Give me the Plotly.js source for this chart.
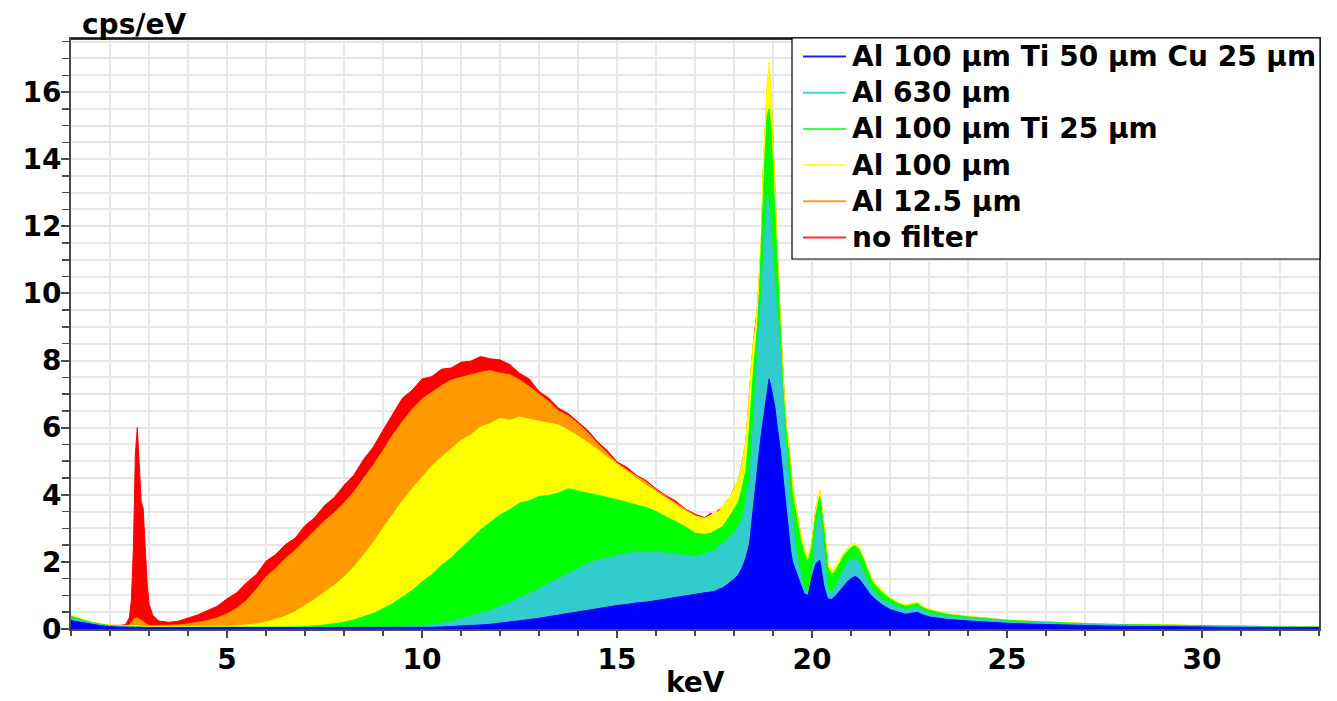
<!DOCTYPE html>
<html>
<head>
<meta charset="utf-8">
<script src="https://cdn.plot.ly/plotly-3.0.1.min.js"></script>
<style>html,body{margin:0;padding:0;background:#fff;}#chart{width:1337px;height:701px;}</style>
</head>
<body>
<div id="chart"></div>
<script>
// Energy axis (keV), shared by all spectra
const energy = [
  1.0, 1.25, 1.5, 1.75, 2.0, 2.25, 2.4,
  2.5, 2.55, 2.6, 2.65, 2.7, 2.75, 2.8, 2.85, 2.9, 2.95, 3.0, 3.1,
  3.25, 3.5, 3.75, 4.0, 4.25, 4.5, 4.75, 5.0, 5.25, 5.5, 5.75, 6.0, 6.25, 6.5, 6.75, 7.0,
  7.25, 7.5, 7.75, 8.0, 8.25, 8.5, 8.75, 9.0, 9.25, 9.5, 9.75, 10.0, 10.25, 10.5, 10.75, 11.0,
  11.25, 11.5, 11.75, 12.0, 12.25, 12.5, 12.75, 13.0, 13.25, 13.5, 13.75, 14.0, 14.25, 14.5, 14.75, 15.0,
  15.25, 15.5, 15.75, 16.0, 16.25, 16.5, 16.75, 17.0, 17.25,
  17.4, 17.5, 17.6, 17.7, 17.8, 17.9, 18.0, 18.1, 18.2, 18.3,
  18.35, 18.4, 18.45, 18.5, 18.55, 18.6, 18.65, 18.7, 18.75, 18.8,
  18.85, 18.9, 18.95, 19.0, 19.05, 19.1, 19.15, 19.2, 19.25, 19.3,
  19.35, 19.4, 19.45, 19.5, 19.6, 19.7, 19.8, 19.9, 20.0, 20.1,
  20.2, 20.3, 20.4, 20.5, 20.6, 20.7, 20.8, 20.9, 21.0, 21.1,
  21.2, 21.3, 21.4, 21.5, 21.6, 21.8, 22.0, 22.2, 22.4, 22.6,
  22.7, 22.8, 23.0, 23.25, 23.5,
  24, 24.5, 25, 25.5, 26, 26.5, 27, 27.5, 28, 28.5, 29, 29.5, 30, 30.5, 31, 31.5, 32, 32.5, 33
];

// no filter (red)
const noFilter = [
  0.30, 0.22, 0.16, 0.12, 0.10, 0.11, 0.13,
  0.35, 0.9, 2.4, 5.2, 6.0, 5.0, 3.8, 3.6, 2.4, 1.4, 0.75, 0.4,
  0.24, 0.20, 0.23, 0.33, 0.42, 0.55, 0.68, 0.90, 1.08, 1.38, 1.62, 2.02, 2.22, 2.52, 2.71, 3.08,
  3.32, 3.68, 3.92, 4.28, 4.58, 5.05, 5.42, 5.92, 6.38, 6.88, 7.12, 7.45, 7.52, 7.74, 7.78, 7.95,
  7.98, 8.12, 8.05, 8.02, 7.88, 7.62, 7.45, 7.08, 6.88, 6.58, 6.42, 6.18, 5.92, 5.58, 5.32, 4.98,
  4.82, 4.58, 4.42, 4.18, 3.98, 3.82, 3.58, 3.42, 3.32,
  3.45, 3.40, 3.55, 3.62, 3.80, 3.92, 4.18, 4.40, 4.88, 5.55,
  6.25, 7.15, 7.90, 8.55, 8.98, 9.55, 10.5, 11.5, 13.6, 14.9,
  16.0, 16.6, 15.8, 14.5, 12.9, 11.5, 10.1, 8.95, 7.55, 6.65,
  5.95, 5.55, 4.85, 4.25, 3.58, 2.88, 2.38, 2.12, 2.58, 3.58,
  4.10, 3.15, 1.98, 1.72, 1.83, 2.02, 2.22, 2.38, 2.48, 2.52,
  2.42, 2.18, 1.88, 1.58, 1.38, 1.12, 0.93, 0.78, 0.70, 0.76,
  0.78, 0.68, 0.58, 0.50, 0.44,
  0.37, 0.31, 0.26, 0.23, 0.20, 0.18, 0.16, 0.14, 0.13, 0.12, 0.11, 0.10, 0.09, 0.08, 0.07, 0.07, 0.06, 0.06, 0.05
];

// Al 12.5 µm (orange)
const al12 = [
  0.36, 0.27, 0.19, 0.14, 0.11, 0.10, 0.10,
  0.12, 0.2, 0.28, 0.32, 0.33, 0.3, 0.26, 0.2, 0.16, 0.12, 0.1, 0.1,
  0.10, 0.10, 0.12, 0.15, 0.19, 0.25, 0.33, 0.45, 0.62, 0.85, 1.18, 1.55, 1.80, 2.10, 2.35, 2.65,
  2.92, 3.22, 3.46, 3.75, 4.08, 4.48, 4.88, 5.32, 5.78, 6.18, 6.55, 6.85, 7.05, 7.25, 7.42, 7.50,
  7.58, 7.65, 7.70, 7.62, 7.58, 7.42, 7.22, 7.00, 6.78, 6.50, 6.35, 6.12, 5.85, 5.52, 5.25, 4.95,
  4.75, 4.55, 4.38, 4.15, 3.95, 3.76, 3.55, 3.38, 3.28,
  3.38, 3.42, 3.48, 3.60, 3.75, 3.92, 4.12, 4.42, 4.82, 5.55,
  6.25, 7.15, 7.90, 8.55, 8.92, 9.55, 10.5, 11.5, 13.7, 14.9,
  16.1, 16.7, 15.9, 14.5, 12.9, 11.5, 10.1, 8.95, 7.55, 6.65,
  5.95, 5.55, 4.85, 4.25, 3.56, 2.86, 2.36, 2.12, 2.56, 3.56,
  4.10, 3.15, 1.97, 1.72, 1.82, 2.02, 2.22, 2.37, 2.47, 2.52,
  2.42, 2.17, 1.87, 1.57, 1.37, 1.12, 0.92, 0.78, 0.70, 0.76,
  0.78, 0.68, 0.58, 0.50, 0.44,
  0.37, 0.31, 0.26, 0.23, 0.20, 0.18, 0.16, 0.14, 0.13, 0.12, 0.11, 0.10, 0.09, 0.08, 0.07, 0.07, 0.06, 0.06, 0.05
];

// Al 100 µm (yellow)
const al100 = [
  0.43, 0.33, 0.22, 0.16, 0.12, 0.10, 0.09,
  0.08, 0.08, 0.09, 0.1, 0.1, 0.09, 0.08, 0.08, 0.07, 0.07, 0.07, 0.07,
  0.07, 0.06, 0.06, 0.06, 0.06, 0.06, 0.07, 0.08, 0.09, 0.11, 0.15, 0.20, 0.28, 0.38, 0.52, 0.70,
  0.88, 1.10, 1.30, 1.55, 1.85, 2.20, 2.58, 3.00, 3.42, 3.82, 4.18, 4.52, 4.85, 5.12, 5.38, 5.62,
  5.78, 6.02, 6.12, 6.28, 6.22, 6.32, 6.25, 6.20, 6.15, 6.08, 5.92, 5.75, 5.55, 5.35, 5.12, 4.92,
  4.70, 4.48, 4.28, 4.08, 3.90, 3.70, 3.52, 3.36, 3.30,
  3.40, 3.45, 3.50, 3.65, 3.78, 3.95, 4.15, 4.45, 4.85, 5.60,
  6.30, 7.20, 7.95, 8.60, 8.95, 9.60, 10.6, 11.6, 13.8, 15.0,
  16.2, 16.9, 16.0, 14.6, 13.0, 11.6, 10.2, 9.0, 7.6, 6.7,
  6.0, 5.6, 4.9, 4.3, 3.6, 2.9, 2.4, 2.15, 2.6, 3.6,
  4.15, 3.2, 2.0, 1.75, 1.85, 2.05, 2.25, 2.4, 2.5, 2.55,
  2.45, 2.2, 1.9, 1.6, 1.4, 1.15, 0.95, 0.8, 0.72, 0.78,
  0.8, 0.7, 0.6, 0.52, 0.46,
  0.38, 0.32, 0.27, 0.24, 0.21, 0.19, 0.17, 0.15, 0.14, 0.13, 0.12, 0.11, 0.10, 0.09, 0.08, 0.08, 0.07, 0.07, 0.06
];

// Al 100 µm Ti 25 µm (green)
const al100ti25 = [
  0.38, 0.29, 0.20, 0.15, 0.10, 0.08, 0.07,
  0.06, 0.06, 0.06, 0.07, 0.07, 0.06, 0.06, 0.06, 0.05, 0.05, 0.05, 0.05,
  0.05, 0.05, 0.04, 0.04, 0.04, 0.04, 0.04, 0.04, 0.04, 0.04, 0.04, 0.05, 0.05, 0.05, 0.06, 0.07,
  0.09, 0.12, 0.16, 0.20, 0.27, 0.36, 0.46, 0.60, 0.76, 0.95, 1.15, 1.40, 1.62, 1.90, 2.12, 2.40,
  2.68, 2.95, 3.18, 3.40, 3.55, 3.75, 3.82, 3.95, 3.98, 4.05, 4.18, 4.12, 4.05, 3.98, 3.92, 3.85,
  3.78, 3.70, 3.62, 3.50, 3.35, 3.20, 3.05, 2.85, 2.82,
  2.85, 2.92, 2.98, 3.05, 3.20, 3.38, 3.55, 3.75, 4.15, 4.70,
  5.30, 6.00, 6.90, 7.70, 8.40, 9.00, 10.0, 11.2, 12.8, 14.2,
  15.3, 15.5, 14.8, 13.6, 12.3, 11.0, 9.8, 8.6, 7.3, 6.4,
  5.7, 5.3, 4.6, 4.0, 3.35, 2.7, 2.25, 2.0, 2.45, 3.4,
  3.95, 3.0, 1.85, 1.62, 1.72, 1.95, 2.15, 2.3, 2.42, 2.48,
  2.38, 2.12, 1.82, 1.52, 1.32, 1.08, 0.9, 0.76, 0.68, 0.74,
  0.76, 0.66, 0.56, 0.49, 0.43,
  0.36, 0.30, 0.26, 0.23, 0.20, 0.18, 0.16, 0.14, 0.13, 0.12, 0.11, 0.10, 0.09, 0.08, 0.08, 0.07, 0.07, 0.06, 0.06
];

// Al 630 µm (cyan)
const al630 = [
  0.33, 0.26, 0.18, 0.13, 0.09, 0.07, 0.06,
  0.05, 0.05, 0.05, 0.05, 0.06, 0.05, 0.05, 0.05, 0.05, 0.04, 0.04, 0.04,
  0.04, 0.04, 0.03, 0.03, 0.03, 0.03, 0.03, 0.03, 0.03, 0.03, 0.03, 0.03, 0.03, 0.03, 0.03, 0.03,
  0.03, 0.03, 0.03, 0.04, 0.04, 0.04, 0.04, 0.05, 0.05, 0.06, 0.07, 0.09, 0.12, 0.16, 0.22, 0.30,
  0.38, 0.46, 0.55, 0.66, 0.78, 0.92, 1.05, 1.20, 1.35, 1.50, 1.66, 1.80, 1.95, 2.05, 2.12, 2.20,
  2.25, 2.30, 2.28, 2.30, 2.26, 2.22, 2.20, 2.15, 2.25,
  2.28, 2.35, 2.45, 2.55, 2.65, 2.75, 2.87, 3.05, 3.25, 3.75,
  4.20, 4.45, 5.20, 6.20, 7.10, 8.20, 9.10, 9.90, 11.0, 12.0,
  12.9, 12.6, 11.8, 10.9, 10.2, 9.5, 8.9, 7.9, 6.7, 5.9,
  5.2, 4.4, 3.7, 3.2, 2.3, 1.7, 1.2, 1.1, 1.6, 2.9,
  3.5, 2.4, 1.2, 1.08, 1.25, 1.5, 1.75, 1.95, 2.05, 2.1,
  2.0, 1.75, 1.5, 1.25, 1.08, 0.88, 0.75, 0.64, 0.58, 0.62,
  0.64, 0.56, 0.48, 0.42, 0.37,
  0.32, 0.27, 0.23, 0.20, 0.18, 0.16, 0.14, 0.13, 0.12, 0.11, 0.10, 0.09, 0.08, 0.08, 0.07, 0.07, 0.06, 0.06, 0.05
];

// Al 100 µm Ti 50 µm Cu 25 µm (blue)
const al100ti50cu25 = [
  0.25, 0.20, 0.14, 0.10, 0.07, 0.05, 0.05,
  0.04, 0.04, 0.04, 0.04, 0.05, 0.04, 0.04, 0.04, 0.04, 0.04, 0.04, 0.04,
  0.04, 0.04, 0.04, 0.04, 0.04, 0.03, 0.03, 0.03, 0.03, 0.03, 0.03, 0.03, 0.03, 0.03, 0.03, 0.03,
  0.03, 0.03, 0.03, 0.03, 0.03, 0.03, 0.03, 0.03, 0.03, 0.04, 0.04, 0.05, 0.05, 0.06, 0.07, 0.08,
  0.10, 0.12, 0.14, 0.17, 0.20, 0.24, 0.28, 0.32, 0.37, 0.42, 0.47, 0.52, 0.57, 0.62, 0.66, 0.70,
  0.73, 0.78, 0.80, 0.85, 0.88, 0.93, 0.98, 1.03, 1.08,
  1.10, 1.12, 1.18, 1.22, 1.30, 1.38, 1.48, 1.60, 1.80, 2.10,
  2.35, 2.55, 3.10, 3.70, 4.20, 4.80, 5.30, 5.80, 6.20, 6.70,
  7.10, 7.45, 7.20, 6.90, 6.60, 6.10, 5.70, 5.20, 4.60, 4.00,
  3.40, 2.80, 2.35, 2.00, 1.65, 1.35, 1.05, 1.00, 1.55, 1.95,
  2.05, 1.30, 0.90, 0.88, 0.98, 1.10, 1.25, 1.40, 1.50, 1.57,
  1.50, 1.35, 1.18, 1.02, 0.90, 0.72, 0.58, 0.50, 0.44, 0.48,
  0.50, 0.44, 0.36, 0.32, 0.28,
  0.24, 0.20, 0.17, 0.15, 0.13, 0.12, 0.10, 0.09, 0.08, 0.08, 0.07, 0.06, 0.06, 0.05, 0.05, 0.05, 0.04, 0.04, 0.04
];

const seriesNames = ['no filter', 'Al 12.5 µm', 'Al 100 µm', 'Al 100 µm Ti 25 µm', 'Al 630 µm', 'Al 100 µm Ti 50 µm Cu 25 µm'];
const seriesValues = [noFilter, al12, al100, al100ti25, al630, al100ti50cu25];
const fillColors = ['#ff0000', '#ff9900', '#ffff00', '#00ff00', '#33cccc', '#0000ff'];
const legendColors = ['#ff3030', '#ff9a30', '#ffff40', '#40ff40', '#40d0d0', '#2020ff'];

seriesValues.forEach((v, i) => {
  if (v.length !== energy.length) throw new Error('length mismatch ' + seriesNames[i] + ': ' + v.length + ' vs ' + energy.length);
});

const traces = [];
// filled spectra, back (no filter) to front (heaviest filter)
seriesValues.forEach((vals, i) => {
  traces.push({
    type: 'scatter', mode: 'lines', x: energy, y: vals,
    fill: 'tozeroy', fillcolor: fillColors[i],
    line: {color: fillColors[i], width: 1},
    showlegend: false, hoverinfo: 'skip', name: seriesNames[i]
  });
});

// plot-area geometry (pixels) used to place the hand-built legend box
const M = {l: 71, r: 18, t: 39, b: 72};
const W = 1337, H = 701;
const pw = W - M.l - M.r, ph = H - M.t - M.b;
const px = v => (v - M.l) / pw;
const py = v => (H - M.b - v) / ph;

const FONT = {family: 'DejaVu Sans, Verdana, sans-serif', size: 28, color: '#000000', weight: 'bold'};
const shapes = [];
const annotations = [];
// top frame line (black)
shapes.push({type: 'line', xref: 'paper', yref: 'paper', x0: 0, x1: 1, y0: 1, y1: 1, line: {color: '#000', width: 1.5}});
// legend box
const legL = 792, legR = 1320, legT = 38, legB = 259, rowH = 36.2, row0 = 56.5;
shapes.push({type: 'rect', xref: 'paper', yref: 'paper', x0: px(legL), x1: px(legR), y0: py(legB), y1: py(legT),
  fillcolor: '#ffffff', line: {color: '#000000', width: 1.2}, layer: 'above'});
for (let k = 0; k < seriesNames.length; k++) {
  const i = seriesNames.length - 1 - k; // top entry = heaviest filter
  const yc = row0 + k * rowH;
  shapes.push({type: 'line', xref: 'paper', yref: 'paper', x0: px(803), x1: px(846), y0: py(yc), y1: py(yc),
    line: {color: legendColors[i], width: 2}, layer: 'above'});
  annotations.push({text: seriesNames[i], xref: 'paper', yref: 'paper', x: px(851), y: py(yc),
    xanchor: 'left', yanchor: 'middle', showarrow: false, borderpad: 0, font: FONT});
}
annotations.push({
  text: 'cps/eV', xref: 'paper', yref: 'paper', x: 0.007, y: 1, xanchor: 'left', yanchor: 'bottom',
  showarrow: false, yshift: -4, font: FONT
});
// x-axis title placed as in the reference (centred under the plot)
annotations.push({
  text: 'keV', xref: 'paper', yref: 'paper', x: 0.5, y: py(682), xanchor: 'center', yanchor: 'middle',
  showarrow: false, borderpad: 0, font: FONT
});

const gridC = '#e6e6e6';
const axisC = '#4a4a4a';
const layout = {
  width: W, height: H,
  margin: {l: M.l, r: M.r, t: M.t, b: M.b, pad: 0},
  paper_bgcolor: '#ffffff', plot_bgcolor: '#ffffff',
  font: FONT,
  showlegend: false,
  xaxis: {
    range: [1, 33], tickmode: 'linear', tick0: 0, dtick: 5,
    ticks: 'outside', ticklen: 7, tickwidth: 2, tickcolor: axisC,
    showgrid: true, gridcolor: gridC, gridwidth: 2,
    minor: {tickmode: 'linear', tick0: 0, dtick: 1, ticks: 'outside', ticklen: 5, tickwidth: 1.5, tickcolor: axisC,
            showgrid: true, gridcolor: gridC, gridwidth: 2},
    showline: true, linecolor: axisC, linewidth: 2, mirror: true, zeroline: false,
    ticklabelstandoff: -3,
    automargin: false
  },
  yaxis: {
    range: [0, 17.58], tickmode: 'linear', tick0: 0, dtick: 2,
    ticks: 'outside', ticklen: 8, tickwidth: 2, tickcolor: axisC,
    showgrid: true, gridcolor: gridC, gridwidth: 2,
    minor: {tickmode: 'linear', tick0: 0, dtick: 0.5, ticks: 'outside', ticklen: 7, tickwidth: 1.5, tickcolor: axisC,
            showgrid: true, gridcolor: gridC, gridwidth: 2},
    showline: true, linecolor: axisC, linewidth: 2, mirror: true, zeroline: false,
    ticklabelstandoff: -6,
    automargin: false
  },
  shapes: shapes,
  annotations: annotations
};

Plotly.newPlot('chart', traces, layout, {displayModeBar: false, staticPlot: true});
</script>
</body>
</html>
